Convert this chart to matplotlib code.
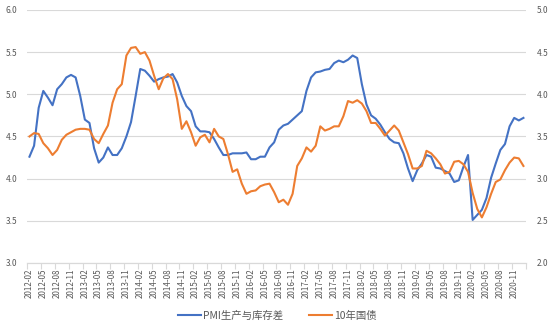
import numpy as np
import pandas as pd
import matplotlib
matplotlib.use("Agg")
import matplotlib.pyplot as plt
from matplotlib.lines import Line2D

plt.rcParams['font.family'] = ['Noto Sans CJK SC', 'DejaVu Sans']

# monthly series, 2012-02 .. 2021-01
months = pd.period_range("2012-02", "2021-01", freq="M").strftime("%Y-%m").tolist()

pmi_gap = [4.26, 4.39, 4.84, 5.04, 4.96, 4.87, 5.06, 5.12, 5.20, 5.23,
           5.20, 4.98, 4.70, 4.66, 4.36, 4.19, 4.25, 4.37, 4.28, 4.28,
           4.36, 4.50, 4.67, 4.98, 5.30, 5.28, 5.22, 5.15, 5.18, 5.20,
           5.21, 5.24, 5.14, 4.98, 4.86, 4.80, 4.62, 4.56, 4.56, 4.55,
           4.47, 4.37, 4.28, 4.28, 4.30, 4.30, 4.30, 4.31, 4.23, 4.23,
           4.26, 4.26, 4.37, 4.43, 4.58, 4.63, 4.65, 4.70, 4.75, 4.80,
           5.04, 5.20, 5.26, 5.27, 5.29, 5.30, 5.37, 5.40, 5.38, 5.41,
           5.46, 5.43, 5.12, 4.88, 4.75, 4.71, 4.64, 4.55, 4.47, 4.43,
           4.42, 4.30, 4.12, 3.97, 4.10, 4.18, 4.28, 4.26, 4.13, 4.12,
           4.09, 4.06, 3.96, 3.98, 4.14, 4.28, 3.51, 3.57, 3.63, 3.77,
           4.01, 4.18, 4.34, 4.41, 4.62, 4.72, 4.69, 4.72]

bond_10y = [3.50, 3.54, 3.53, 3.42, 3.36, 3.28, 3.34, 3.46, 3.52, 3.55,
            3.58, 3.59, 3.59, 3.58, 3.47, 3.42, 3.53, 3.63, 3.90, 4.06,
            4.12, 4.46, 4.55, 4.56, 4.48, 4.50, 4.40, 4.22, 4.06, 4.19,
            4.24, 4.18, 3.94, 3.59, 3.68, 3.55, 3.39, 3.49, 3.52, 3.43,
            3.59, 3.50, 3.47, 3.29, 3.08, 3.11, 2.94, 2.82, 2.85, 2.86,
            2.91, 2.93, 2.94, 2.84, 2.72, 2.75, 2.69, 2.82, 3.15, 3.24,
            3.37, 3.32, 3.39, 3.62, 3.57, 3.59, 3.62, 3.62, 3.74, 3.92,
            3.90, 3.93, 3.89, 3.80, 3.66, 3.66, 3.59, 3.51, 3.57, 3.63,
            3.57, 3.43, 3.29, 3.12, 3.12, 3.15, 3.33, 3.30, 3.24, 3.17,
            3.06, 3.08, 3.20, 3.21, 3.17, 3.08, 2.83, 2.64, 2.54, 2.66,
            2.82, 2.96, 2.99, 3.10, 3.19, 3.25, 3.24, 3.15]

left_ticks = [3.0, 3.5, 4.0, 4.5, 5.0, 5.5, 6.0]
right_ticks = [2.0, 2.5, 3.0, 3.5, 4.0, 4.5, 5.0]

blue = "#4472C4"
orange = "#ED7D31"
grid_c = "#D9D9D9"
text_c = "#595959"

fig = plt.figure(figsize=(5.54, 3.32), dpi=100)
ax = fig.add_axes([0.049, 0.208, 0.900, 0.762])
ax2 = ax.twinx()

x = np.arange(len(months))
ax.plot(x, pmi_gap, color=blue, lw=1.5, zorder=3)
ax2.plot(x, bond_10y, color=orange, lw=1.5, zorder=3)

ax.set_xlim(-0.5, len(months) - 0.5)
ax.set_ylim(left_ticks[0], left_ticks[-1])
ax2.set_ylim(right_ticks[0], right_ticks[-1])

ax.set_yticks(left_ticks)
ax.set_yticklabels([f"{v:.1f}" for v in left_ticks])
ax2.set_yticks(right_ticks)
ax2.set_yticklabels([f"{v:.1f}" for v in right_ticks])

# category labels every 3 months, tick marks between categories
ax.set_xticks(x[::3])
ax.set_xticklabels(months[::3], rotation=90)
ax.set_xticks(np.arange(-0.5, len(months), 3), minor=True)

ax.grid(axis="y", color=grid_c, lw=0.8)
ax.set_axisbelow(True)

for a in (ax, ax2):
    for side in ("top", "left", "right"):
        a.spines[side].set_visible(False)
    a.spines["bottom"].set_color(grid_c)
    a.tick_params(axis="y", length=0, labelsize=6, labelcolor=text_c, pad=7)

ax.tick_params(axis="x", which="major", length=0, labelsize=5.8,
               labelcolor=text_c, pad=4)
ax.tick_params(axis="x", which="minor", length=4, color=grid_c, width=0.8)
ax2.tick_params(axis="y", pad=8)

handles = [Line2D([], [], color=blue, lw=1.5),
           Line2D([], [], color=orange, lw=1.5)]
fig.legend(handles, ["PMI生产与库存差", "10年国债"], loc="center",
           bbox_to_anchor=(0.5, 0.048), ncol=2, frameon=False,
           fontsize=7.5, labelcolor=text_c, handlelength=2.2,
           handletextpad=0.2, columnspacing=2.5)

fig.savefig("out.png", dpi=100)
